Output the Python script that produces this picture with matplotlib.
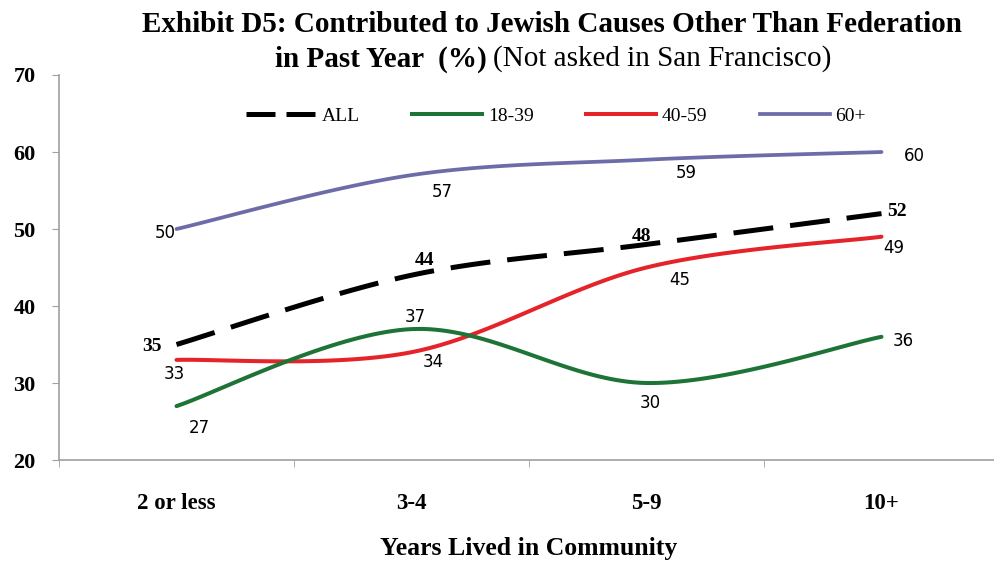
import numpy as np
import matplotlib
matplotlib.use('Agg')
import matplotlib.pyplot as plt
from matplotlib.lines import Line2D

categories = ['2 or less', '3-4', '5-9', '10+']
series_names = ['ALL', '18-39', '40-59', '60+']
all_vals = [35, 44, 48, 52]
age_18_39 = [27, 37, 30, 36]
age_40_59 = [33, 34, 45, 49]
age_60_plus = [50, 57, 59, 60]

SERIF = 'Liberation Serif'
SANS = 'DejaVu Sans'
PX = 0.72  # pixels -> points at dpi 100


def smooth(xs, ys, n=40):
    """Bezier smoothing through every point (spreadsheet-style smoothed line)."""
    p = np.column_stack([xs, ys]).astype(float)
    out = [p[:1]]
    t = np.linspace(0, 1, n)[1:, None]
    for i in range(len(p) - 1):
        p0, p1 = p[max(i - 1, 0)], p[i]
        p2, p3 = p[i + 1], p[min(i + 2, len(p) - 1)]
        c1 = p1 + (p2 - p0) / 6.0
        c2 = p2 - (p3 - p1) / 6.0
        seg = ((1 - t) ** 3) * p1 + 3 * ((1 - t) ** 2) * t * c1 \
            + 3 * (1 - t) * t ** 2 * c2 + t ** 3 * p2
        out.append(seg)
    pts = np.vstack(out)
    return pts[:, 0], pts[:, 1]


fig = plt.figure(figsize=(9.94, 5.62), dpi=100)
ax = fig.add_axes([59 / 994, 1 - 460 / 562, 940 / 994, 385 / 562])

x = np.arange(len(categories))
styles = {
    'ALL': dict(color='black', lw=3.6, dashes=(8, 3.4), dash_capstyle='butt'),
    '18-39': dict(color='#1e7436', lw=2.9),
    '40-59': dict(color='#e5242a', lw=2.9),
    '60+': dict(color='#6c6ca8', lw=2.7),
}
values = {'ALL': all_vals, '18-39': age_18_39, '40-59': age_40_59, '60+': age_60_plus}

# label offsets in pixels (dx, dy up) for each point
offsets = {
    'ALL': [(-25, -2), (13, 15), (-5, 8), (15, 2)],
    '18-39': [(23, -22), (4, 12), (4, -20), (22, -4)],
    '40-59': [(-2, -14), (22, -10), (33, -12), (12, -11)],
    '60+': [(-11, -4), (31, -17), (40, -13), (33, -4)],
}

for name in ['60+', '40-59', '18-39', 'ALL']:
    sx, sy = smooth(x, values[name])
    ax.plot(sx, sy, solid_capstyle='round', **styles[name])
    for xi, yi, (dx, dy) in zip(x, values[name], offsets[name]):
        if name == 'ALL':
            font = dict(family=SERIF, fontweight='bold', fontsize=14)
        else:
            font = dict(family=SANS, fontsize=12)
        ax.annotate(str(yi), (xi, yi), xytext=(dx * PX, dy * PX),
                    textcoords='offset points', ha='center', va='center',
                    color='black', **font)

ax.set_xlim(-0.5, 3.5)
ax.set_ylim(20, 70)
ax.set_yticks(range(20, 71, 10))
ax.set_xticks(x)
ax.set_xticklabels(categories, family=SERIF, fontweight='bold', fontsize=16.5)
ax.set_xticks(np.arange(-0.5, 4, 1), minor=True)
for lab in ax.get_yticklabels():
    lab.set_family(SERIF)
    lab.set_fontweight('bold')
    lab.set_fontsize(16)
ax.tick_params(axis='x', which='major', length=0, pad=24)
ax.tick_params(axis='x', which='minor', length=5, color='#a0a0a0', direction='out')
ax.tick_params(axis='y', length=5, color='#a0a0a0', pad=12)
for side in ['top', 'right']:
    ax.spines[side].set_visible(False)
for side in ['left', 'bottom']:
    ax.spines[side].set_color('#a0a0a0')
    ax.spines[side].set_linewidth(1.2)
ax.set_xlabel('Years Lived in Community', family=SERIF, fontweight='bold',
              fontsize=18.5, labelpad=16)

handles = [Line2D([], [], color='black', lw=3.6, dashes=(5.8, 2.2)),
           Line2D([], [], **styles['18-39']),
           Line2D([], [], **styles['40-59']),
           Line2D([], [], **styles['60+'])]
fig.legend(handles, series_names, loc='center', bbox_to_anchor=(556 / 994, 1 - 116 / 562),
           ncol=4, frameon=False, handlelength=3.6, handletextpad=0.28,
           columnspacing=2.7, prop=dict(family=SERIF, size=14))

fig.text(552 / 994, 1 - 25 / 562,
         'Exhibit D5: Contributed to Jewish Causes Other Than Federation',
         ha='center', va='center', family=SERIF, fontweight='bold', fontsize=21)
fig.text(487 / 994, 1 - 59 / 562, 'in Past Year  (%)', ha='right', va='center',
         family=SERIF, fontweight='bold', fontsize=21)
fig.text(493 / 994, 1 - 59 / 562, '(Not asked in San Francisco)', ha='left', va='center',
         family=SERIF, fontsize=21)

fig.savefig('out.png', dpi=100)
